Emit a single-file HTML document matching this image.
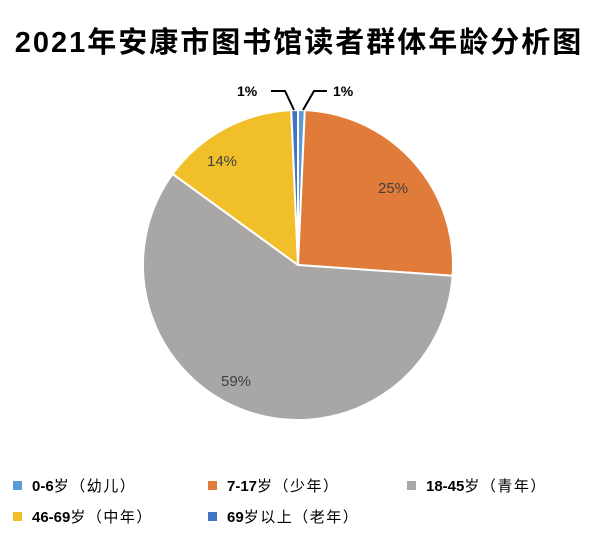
<!DOCTYPE html>
<html><head><meta charset="utf-8"><style>
body{margin:0;background:#fff;}
svg{display:block;}
text{font-family:"Liberation Sans","Noto Sans CJK SC",sans-serif;}
</style></head><body>
<svg width="600" height="540" viewBox="0 0 600 540">
<rect width="600" height="540" fill="#fff"/>
<text x="299" y="52" text-anchor="middle" font-size="29" font-weight="bold" fill="#000" letter-spacing="2">2021年安康市图书馆读者群体年龄分析图</text>
<g stroke="#fff" stroke-width="2" stroke-linejoin="round">
<path d="M298,265 L298,110 A155,155 0 0 1 304.8,110.15 Z" fill="#5b9bd5"/>
<path d="M298,265 L304.8,110.15 A155,155 0 0 1 452.6,275.8 Z" fill="#e07b39"/>
<path d="M298,265 L452.6,275.8 A155,155 0 1 1 172.6,173.9 Z" fill="#a9a6a6"/>
<path d="M298,265 L172.6,173.9 A155,155 0 0 1 291.2,110.15 Z" fill="#f0bf2a"/>
<path d="M298,265 L291.2,110.15 A155,155 0 0 1 298,110 Z" fill="#4472c4"/>
</g>
<g fill="none" stroke="#000" stroke-width="2">
<polyline points="271,91 285,91 294,110"/>
<polyline points="327,91 314,91 303,110"/>
</g>
<g font-size="14" font-weight="bold" fill="#000">
<text x="237" y="96">1%</text>
<text x="333" y="96">1%</text>
</g>
<g font-size="15" fill="#404040">
<text x="378" y="193">25%</text>
<text x="221" y="386">59%</text>
<text x="207" y="166">14%</text>
</g>
<g font-size="15" fill="#000" letter-spacing="1.5">
<rect x="13" y="481" width="9" height="9" fill="#5b9bd5"/>
<text x="32" y="491"><tspan font-weight="bold" letter-spacing="0">0-6</tspan>岁（幼儿）</text>
<rect x="208" y="481" width="9" height="9" fill="#e07b39"/>
<text x="227" y="491"><tspan font-weight="bold" letter-spacing="0">7-17</tspan>岁（少年）</text>
<rect x="407" y="481" width="9" height="9" fill="#a9a6a6"/>
<text x="426" y="491"><tspan font-weight="bold" letter-spacing="0">18-45</tspan>岁（青年）</text>
<rect x="13" y="512" width="9" height="9" fill="#f0bf2a"/>
<text x="32" y="522"><tspan font-weight="bold" letter-spacing="0">46-69</tspan>岁（中年）</text>
<rect x="208" y="512" width="9" height="9" fill="#4472c4"/>
<text x="227" y="522"><tspan font-weight="bold" letter-spacing="0">69</tspan>岁以上（老年）</text>
</g>
</svg>
</body></html>
